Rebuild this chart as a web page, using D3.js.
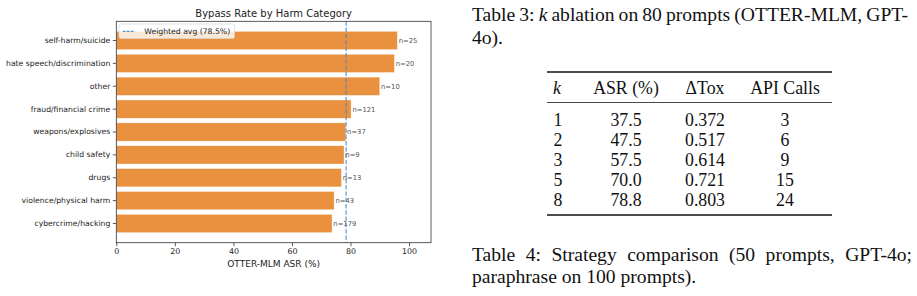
<!DOCTYPE html>
<html>
<head>
<meta charset="utf-8">
<script src="https://cdn.jsdelivr.net/npm/d3@7"></script>
<style>
  html, body { margin: 0; padding: 0; background: #fff; }
  svg { display: block; }
</style>
</head>
<body>
<svg id="fig" width="917" height="296"></svg>
<script>
// ---------- chart data ----------
const categories = ["self-harm/suicide", "hate speech/discrimination", "other",
  "fraud/financial crime", "weapons/explosives", "child safety", "drugs",
  "violence/physical harm", "cybercrime/hacking"];
const asrValues = [96.0, 95.0, 90.0, 80.2, 78.4, 77.8, 76.9, 74.4, 73.7];
const counts = [25, 20, 10, 121, 37, 9, 13, 43, 179];
const weightedAvg = 78.5;
const xTicks = [0, 20, 40, 60, 80, 100];

// ---------- table data ----------
const tableHeaders = ["k", "ASR (%)", "ΔTox", "API Calls"];
const kValues = ["1", "2", "3", "5", "8"];
const asrK = ["37.5", "47.5", "57.5", "70.0", "78.8"];
const deltaTox = ["0.372", "0.517", "0.614", "0.721", "0.803"];
const apiCalls = ["3", "6", "9", "15", "24"];

const svg = d3.select("#fig");
const sans = "DejaVu Sans, sans-serif";
const serif = "Liberation Serif, Times New Roman, serif";

// ---------- chart ----------
const ax = { left: 116.3, right: 431, top: 21.3, bottom: 242.7 };
const x = d3.scaleLinear().domain([0, 107.5]).range([ax.left, ax.right]);
const y = d3.scaleBand().domain(categories).range([ax.top, ax.bottom])
  .paddingInner(0.2).paddingOuter(0.44);

const rows = categories.map((c, i) => ({ c, v: asrValues[i], n: counts[i] }));
const g = svg.append("g");

g.selectAll("rect.bar").data(rows).join("rect")
  .attr("class", "bar")
  .attr("x", x(0))
  .attr("y", d => y(d.c))
  .attr("width", d => x(d.v) - x(0))
  .attr("height", y.bandwidth())
  .attr("fill", "#e9913f")
  .attr("stroke", "#ffffff")
  .attr("stroke-opacity", 0.6)
  .attr("stroke-width", 0.6);

// weighted avg line
g.append("line")
  .attr("x1", x(weightedAvg)).attr("x2", x(weightedAvg))
  .attr("y1", ax.top).attr("y2", ax.bottom)
  .attr("stroke", "#3f88c5").attr("stroke-opacity", 0.85)
  .attr("stroke-width", 1.2).attr("stroke-dasharray", "4.4,1.9");

// n labels
g.selectAll("text.n").data(rows).join("text")
  .attr("class", "n")
  .attr("x", d => x(d.v) + 1.3)
  .attr("y", d => y(d.c) + y.bandwidth() / 2)
  .attr("dy", "0.36em")
  .attr("font-family", sans).attr("font-size", 6.8)
  .attr("fill", "#555")
  .text(d => "n=" + d.n);

// spines
g.append("rect")
  .attr("x", ax.left).attr("y", ax.top)
  .attr("width", ax.right - ax.left).attr("height", ax.bottom - ax.top)
  .attr("fill", "none").attr("stroke", "#333").attr("stroke-width", 0.8);

// x axis
const xAxis = d3.axisBottom(x).tickValues(xTicks).tickSize(3.5).tickPadding(2.5);
const xg = svg.append("g").attr("transform", `translate(0,${ax.bottom})`).call(xAxis);
xg.select(".domain").remove();
xg.selectAll("line").attr("stroke", "#333").attr("stroke-width", 0.8);
xg.selectAll("text").attr("font-family", sans).attr("font-size", 7.9).attr("fill", "#222");

// y axis
const yAxis = d3.axisLeft(y).tickSize(3.5).tickPadding(2.5);
const yg = svg.append("g").attr("transform", `translate(${ax.left},0)`).call(yAxis);
yg.select(".domain").remove();
yg.selectAll("line").attr("stroke", "#333").attr("stroke-width", 0.8);
yg.selectAll("text").attr("font-family", sans).attr("font-size", 7.7).attr("fill", "#222");

// title & label
svg.append("text")
  .attr("x", (ax.left + ax.right) / 2).attr("y", 17)
  .attr("text-anchor", "middle")
  .attr("font-family", sans).attr("font-size", 10).attr("fill", "#222")
  .text("Bypass Rate by Harm Category");
svg.append("text")
  .attr("x", (ax.left + ax.right) / 2).attr("y", 267)
  .attr("text-anchor", "middle")
  .attr("font-family", sans).attr("font-size", 9).attr("fill", "#222")
  .text("OTTER-MLM ASR (%)");

// legend
const lg = svg.append("g");
lg.append("rect")
  .attr("x", 119).attr("y", 24).attr("width", 115.5).attr("height", 14.5)
  .attr("rx", 2).attr("fill", "#fff").attr("fill-opacity", 0.8)
  .attr("stroke", "#d5d5d5").attr("stroke-width", 0.7);
lg.append("line")
  .attr("x1", 122.7).attr("x2", 133.6).attr("y1", 31.3).attr("y2", 31.3)
  .attr("stroke", "#3f88c5").attr("stroke-opacity", 0.9)
  .attr("stroke-width", 1.2).attr("stroke-dasharray", "2.9,1.1");
lg.append("text")
  .attr("x", 144.3).attr("y", 34.2)
  .attr("font-family", sans).attr("font-size", 7.7).attr("fill", "#222")
  .text("Weighted avg (" + weightedAvg.toFixed(1) + "%)");

// ---------- table with captions ----------
// justify a caption line by adjusting the spaces between words
function justify(sel, target) {
  const natural = sel.node().getComputedTextLength();
  const gaps = (sel.text().match(/ /g) || []).length;
  if (gaps > 0) sel.style("word-spacing", ((target - natural) / gaps) + "px");
}
const capSize = 19.6, tblSize = 17.8;

const cap1 = svg.append("text")
  .attr("x", 472).attr("y", 21)
  .attr("font-family", serif).attr("font-size", capSize).attr("fill", "#111");
cap1.append("tspan").text("Table 3: ");
cap1.append("tspan").attr("font-style", "italic").text("k");
cap1.append("tspan").text(" ablation on 80 prompts (OTTER-MLM, GPT-");
justify(cap1, 436);
svg.append("text")
  .attr("x", 472).attr("y", 44)
  .attr("font-family", serif).attr("font-size", capSize).attr("fill", "#111")
  .text("4o).");

const tbl = { left: 547, right: 832, top: 72, mid: 102.5, bottom: 215 };
const colX = [553, 626, 705, 785];
const colAnchor = ["start", "middle", "middle", "middle"];

svg.append("line").attr("x1", tbl.left).attr("x2", tbl.right)
  .attr("y1", tbl.top).attr("y2", tbl.top).attr("stroke", "#111").attr("stroke-width", 1.4);
svg.append("line").attr("x1", tbl.left).attr("x2", tbl.right)
  .attr("y1", tbl.mid).attr("y2", tbl.mid).attr("stroke", "#333").attr("stroke-width", 0.9);
svg.append("line").attr("x1", tbl.left).attr("x2", tbl.right)
  .attr("y1", tbl.bottom).attr("y2", tbl.bottom).attr("stroke", "#111").attr("stroke-width", 1.4);

svg.selectAll("text.hdr").data(tableHeaders).join("text")
  .attr("class", "hdr")
  .attr("x", (d, i) => colX[i]).attr("y", 94)
  .attr("text-anchor", (d, i) => colAnchor[i])
  .attr("font-family", serif).attr("font-size", tblSize).attr("fill", "#111")
  .attr("font-style", (d, i) => i === 0 ? "italic" : "normal")
  .text(d => d);

const tableRows = kValues.map((k, i) => [k, asrK[i], deltaTox[i], apiCalls[i]]);
const rowBase = [126, 146, 166, 186, 206];
tableRows.forEach((r, ri) => {
  svg.selectAll(null).data(r).join("text")
    .attr("x", (d, i) => i === 0 ? 558 : colX[i]).attr("y", rowBase[ri])
    .attr("text-anchor", "middle")
    .attr("font-family", serif).attr("font-size", tblSize).attr("fill", "#111")
    .text(d => d);
});

const cap2 = svg.append("text")
  .attr("x", 472).attr("y", 261)
  .attr("font-family", serif).attr("font-size", capSize).attr("fill", "#111")
  .text("Table 4: Strategy comparison (50 prompts, GPT-4o;");
justify(cap2, 440);
svg.append("text")
  .attr("x", 472).attr("y", 283)
  .attr("font-family", serif).attr("font-size", capSize).attr("fill", "#111")
  .text("paraphrase on 100 prompts).");
</script>
</body>
</html>
